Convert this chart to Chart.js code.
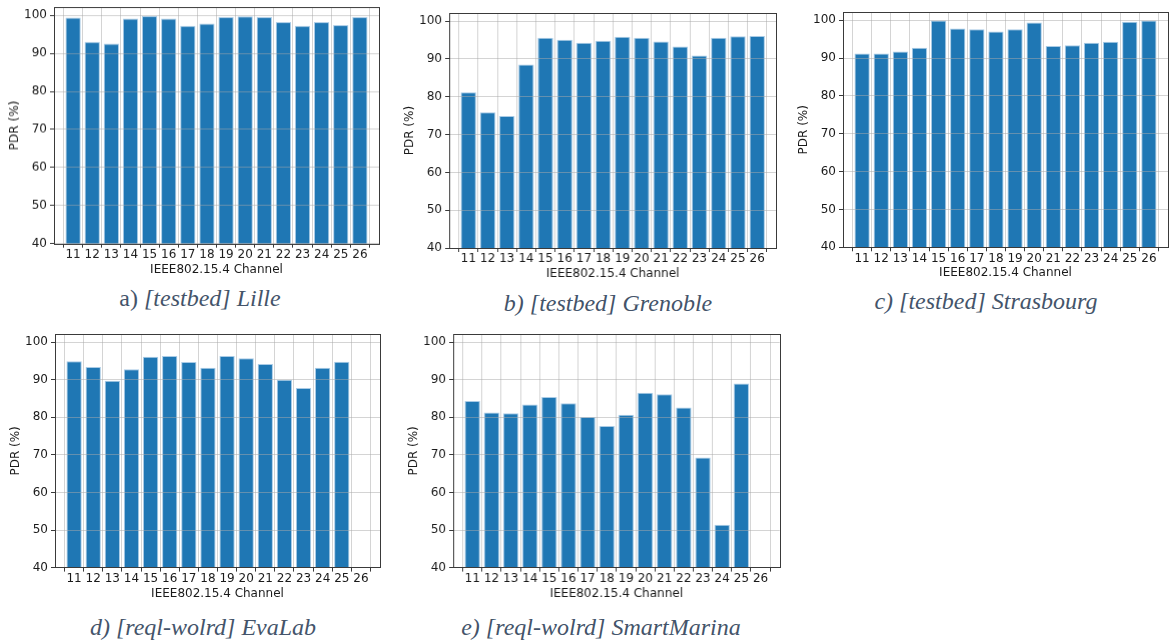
<!DOCTYPE html>
<html>
<head>
<meta charset="utf-8">
<script src="https://cdn.jsdelivr.net/npm/chart.js@4.4.1/dist/chart.umd.min.js"></script>
<style>
  body { margin: 0; background: #fff; width: 1171px; height: 641px; position: relative; overflow: hidden; }
  .box { position: absolute; }
  .cap {
    position: absolute; transform: translate(-50%, -50%); white-space: nowrap;
    font-family: "Liberation Serif", serif; font-size: 24px; color: #44546a;
  }
  .cap i { font-style: italic; }
</style>
</head>
<body>

<div class="cap" style="left:200px;top:298px">a) <i>[testbed] Lille</i></div>
<div class="cap" style="left:608px;top:303px"><i>b) [testbed] Grenoble</i></div>
<div class="cap" style="left:986px;top:301px"><i>c) [testbed] Strasbourg</i></div>
<div class="cap" style="left:203px;top:627px"><i>d) [reql-wolrd] EvaLab</i></div>
<div class="cap" style="left:601px;top:627px"><i>e) [reql-wolrd] SmartMarina</i></div>

<script>
const channels = [11, 12, 13, 14, 15, 16, 17, 18, 19, 20, 21, 22, 23, 24, 25, 26];
const yTicks = [40, 50, 60, 70, 80, 90, 100];

const lille      = [99.4, 93.0, 92.5, 99.1, 99.8, 99.1, 97.2, 97.8, 99.5, 99.7, 99.5, 98.2, 97.2, 98.2, 97.4, 99.5];
const grenoble   = [81.2, 75.9, 74.9, 88.5, 95.6, 95.1, 94.3, 94.8, 95.9, 95.6, 94.6, 93.3, 90.9, 95.6, 96.0, 96.1];
const strasbourg = [91.2, 91.2, 91.7, 92.7, 99.9, 97.8, 97.6, 97.0, 97.6, 99.4, 93.2, 93.4, 94.0, 94.3, 99.6, 99.9];
const evalab     = [94.9, 93.4, 89.7, 92.8, 96.1, 96.3, 94.7, 93.2, 96.3, 95.7, 94.2, 90.0, 87.8, 93.2, 94.8, null];
const marina     = [84.3, 81.3, 81.1, 83.4, 85.4, 83.7, 80.1, 77.7, 80.7, 86.5, 86.1, 82.6, 69.3, 51.4, 89.0, null];

// plot area of each panel on the page: left, top, right, bottom (y = 40)
const panels = [
  { data: lille,      area: [54, 5, 379, 242.7] },
  { data: grenoble,   area: [449.3, 11.3, 775.7, 248.3] },
  { data: strasbourg, area: [843.3, 10, 1168.3, 247.3] },
  { data: evalab,     area: [55, 331.7, 380, 567.3] },
  { data: marina,     area: [453.3, 331.7, 779, 567.3] }
];

const YW = 54, XH = 33, PT = 8, PR = 3;
const tickFont = { family: "'DejaVu Sans'", size: 12 };
const gridColor = 'rgba(170,170,170,0.5)';

const frame = {
  id: 'frame',
  afterDraw(chart) {
    const a = chart.chartArea, c = chart.ctx;
    c.save();
    c.strokeStyle = '#3a3a3a';
    c.lineWidth = 1;
    c.strokeRect(Math.round(a.left) + 0.5, Math.round(a.top) + 0.5,
                 Math.round(a.right - a.left), Math.round(a.bottom - a.top));
    c.restore();
  }
};

panels.forEach(p => {
  const [l, t, r, b] = p.area;
  const box = document.createElement('div');
  box.className = 'box';
  box.style.left = (l - YW) + 'px';
  box.style.top = (t - PT) + 'px';
  box.style.width = (r - l + YW + PR) + 'px';
  box.style.height = (b - t + PT + XH) + 'px';
  const cv = document.createElement('canvas');
  box.appendChild(cv);
  document.body.appendChild(box);

  new Chart(cv, {
    type: 'bar',
    data: {
      datasets: [{
        data: channels.map((c, i) => ({ x: c, y: p.data[i] })),
        backgroundColor: '#1f77b4',
        borderColor: '#a9cbe6',
        borderWidth: 1,
        barPercentage: 0.8,
        categoryPercentage: 1
      }]
    },
    options: {
      responsive: true,
      maintainAspectRatio: false,
      animation: false,
      layout: { padding: { top: PT, right: PR, left: 0, bottom: 0 } },
      plugins: { legend: { display: false }, tooltip: { enabled: false } },
      scales: {
        x: {
          type: 'linear', min: 10, max: 27, offset: false,
          afterBuildTicks: s => { s.ticks = channels.map(v => ({ value: v })); },
          afterFit: s => { s.height = XH; },
          ticks: { font: tickFont, color: '#1a1a1a', padding: 0, maxRotation: 0, autoSkip: false },
          grid: { color: gridColor, tickColor: '#3a3a3a', tickLength: 4, z: 1 },
          border: { display: false },
          title: { display: true, text: 'IEEE802.15.4 Channel', font: tickFont, color: '#1a1a1a', padding: 0 }
        },
        y: {
          min: 40, max: 102.1,
          afterBuildTicks: s => { s.ticks = yTicks.map(v => ({ value: v })); },
          afterFit: s => { s.width = YW; },
          ticks: { font: tickFont, color: '#1a1a1a', padding: 3 },
          grid: { color: gridColor, tickColor: '#3a3a3a', tickLength: 4, z: 1 },
          border: { display: false },
          title: { display: true, text: 'PDR (%)', font: tickFont, color: '#1a1a1a', padding: { top: 8, bottom: 0 } }
        }
      }
    },
    plugins: [frame]
  });
});
</script>
</body>
</html>
